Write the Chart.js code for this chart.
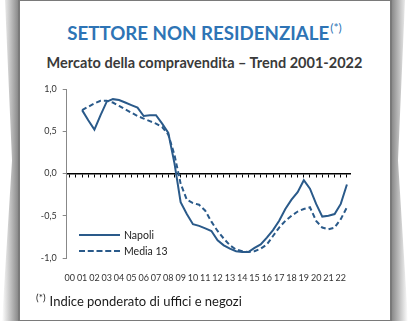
<!DOCTYPE html>
<html>
<head>
<meta charset="utf-8">
<script src="https://cdn.jsdelivr.net/npm/chart.js@4.4.0/dist/chart.umd.min.js"></script>
<style>
  html, body { margin: 0; padding: 0; background: #fff; }
  body { width: 410px; height: 321px; position: relative; overflow: hidden; font-family: Lato, "Noto Sans", sans-serif; }
  .shadow { position: absolute; top: 0; bottom: 0; width: 17px; }
  #shadowL { left: 2px; background: linear-gradient(to right, rgba(255,255,255,0), rgba(110,110,110,0.85));
    clip-path: polygon(3px 0, 17px 0, 17px 100%, 0 100%, 10px 50%); }
  #shadowR { left: 391px; background: linear-gradient(to left, rgba(255,255,255,0), rgba(110,110,110,0.85));
    clip-path: polygon(0 0, 14px 0, 7px 50%, 17px 100%, 0 100%); }
  #box { position: absolute; left: 18px; top: -1px; width: 370px; height: 319px; border: 2px solid #7a7a7a; background: #fff; }
  #title { position: absolute; left: 19px; width: 371px; top: 18px; text-align: center; color: #2e74b5;
    font-weight: bold; font-size: 18.7px; line-height: 19px; }
  #title sup { font-size: 12px; font-weight: normal; vertical-align: 8px; margin-left: 1px; }
  #sub { position: absolute; left: 19px; width: 371px; top: 55px; text-align: center; color: #3a3a3a;
    font-weight: bold; font-size: 14.5px; line-height: 15px; }
  #c { position: absolute; left: 0; top: 0; }
  #legend { position: absolute; left: 79px; top: 227px; font-size: 10.5px; color: #222; }
  .item { height: 16px; display: flex; align-items: center; }
  .swatch { width: 41px; height: 0; margin-right: 4px; border-top: 2px solid #2a5a8a; }
  .swatch.dash { border-top-style: dashed; }
  #note { position: absolute; left: 36px; top: 289px; font-size: 13px; line-height: 16px; color: #1a1a1a; }
  #note sup { font-size: 10px; vertical-align: 5px; margin-right: 4px; }
</style>
</head>
<body>
<div id="shadowL" class="shadow"></div>
<div id="shadowR" class="shadow"></div>
<div id="box"></div>
<div id="title">SETTORE NON RESIDENZIALE<sup>(*)</sup></div>
<div id="sub">Mercato della compravendita – Trend 2001-2022</div>
<canvas id="c" width="410" height="321"></canvas>
<div id="legend">
  <div class="item"><span class="swatch"></span>Napoli</div>
  <div class="item"><span class="swatch dash"></span>Media 13</div>
</div>
<div id="note"><sup>(*)</sup>Indice ponderato di uffici e negozi</div>
<script>
// anni (etichette asse x), dati semestrali dal 1° sem. 2001 al 2° sem. 2022
const years = ["00","01","02","03","04","05","06","07","08","09","10","11",
  "12","13","14","15","16","17","18","19","20","21","22"];

const napoli = [0.75, 0.63, 0.52, 0.69, 0.85, 0.88, 0.87, 0.84, 0.81, 0.78,
  0.68, 0.69, 0.69, 0.59, 0.48, 0.12, -0.34, -0.48, -0.60, -0.62,
  -0.65, -0.68, -0.79, -0.85, -0.89, -0.92, -0.93, -0.93, -0.88, -0.84,
  -0.76, -0.67, -0.56, -0.42, -0.31, -0.22, -0.08, -0.18, -0.36, -0.51,
  -0.50, -0.48, -0.36, -0.13];

const media13 = [0.75, 0.79, 0.83, 0.86, 0.86, 0.84, 0.80, 0.76, 0.72, 0.68,
  0.65, 0.62, 0.59, 0.55, 0.46, 0.22, -0.12, -0.31, -0.35, -0.37,
  -0.44, -0.57, -0.68, -0.77, -0.85, -0.90, -0.92, -0.93, -0.92, -0.89,
  -0.84, -0.74, -0.64, -0.56, -0.50, -0.45, -0.42, -0.40, -0.56, -0.64,
  -0.66, -0.64, -0.54, -0.40];

const yTicks = [-1, -0.5, 0, 0.5, 1];

// two half-years per year; 2000 has no data
const halves = years.flatMap(y => [y, ""]);
const lead = [null, null];
const lineColor = "#2a5a8a";

new Chart(document.getElementById("c"), {
  type: "line",
  data: {
    labels: halves,
    datasets: [
      { label: "Napoli", data: lead.concat(napoli), borderColor: lineColor, borderWidth: 2,
        pointRadius: 0, tension: 0 },
      { label: "Media 13", data: lead.concat(media13), borderColor: lineColor, borderWidth: 2,
        borderDash: [5, 3], pointRadius: 0, tension: 0 },
    ],
  },
  options: {
    responsive: false,
    animation: false,
    events: [],
    layout: { padding: { left: 20, top: 89, right: 60, bottom: 0 } },
    plugins: { legend: { display: false }, tooltip: { enabled: false } },
    scales: {
      x: {
        type: "category",
        offset: true,
        grid: { display: false },
        border: { display: false },
        ticks: { autoSkip: false, maxRotation: 0, padding: 7, color: "#333",
          font: { family: "Lato", size: 9 } },
        afterFit: s => { s.height = 63; },
      },
      x0: {
        type: "category",
        position: { y: 0 },
        offset: true,
        grid: { drawOnChartArea: false, tickLength: 3, color: "#000", lineWidth: 1 },
        border: { color: "#000", width: 1.5 },
        ticks: { display: false },
      },
      y: {
        min: -1,
        max: 1,
        afterBuildTicks: s => { s.ticks = yTicks.map(v => ({ value: v })); },
        grid: { drawOnChartArea: false, tickLength: 4, color: "#888" },
        border: { color: "#888", width: 1 },
        ticks: { padding: 6, color: "#333", font: { family: "Lato", size: 9 },
          callback: v => v.toFixed(1).replace(".", ",") },
        afterFit: s => { s.width = 46.7; },
      },
    },
  },
});
</script>
</body>
</html>
